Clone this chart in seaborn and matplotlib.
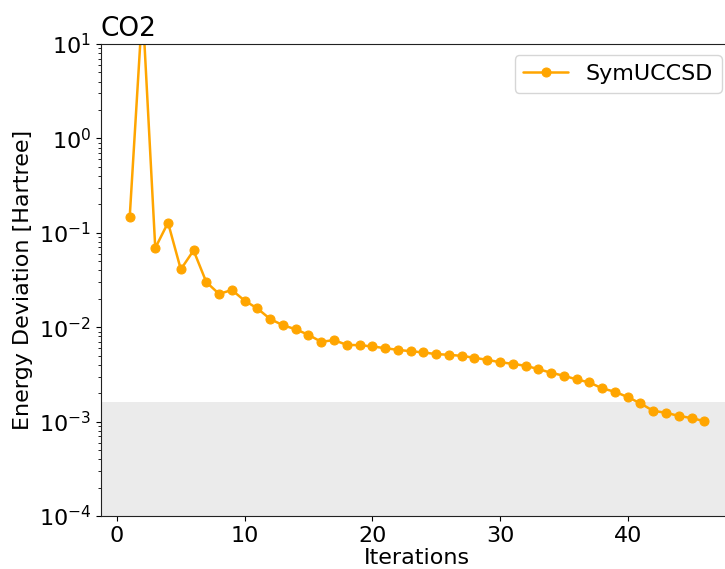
import numpy as np
import pandas as pd
import seaborn as sns
import matplotlib
matplotlib.use("Agg")
from matplotlib import pyplot as plt

sns.set_style("ticks", {"text.color": "black", "axes.labelcolor": "black",
                        "xtick.color": "black", "ytick.color": "black",
                        "axes.edgecolor": "#222222"})
plt.rcParams['font.family'] = ['DejaVu Sans']

# data ~~~~~~~~~~~~~~~~~~~~~~~~~~~~~~~~~~~~~~~~~~~~~~~~~~~~~~~~~~~~~~~~~~~~~
iterations = list(range(1, 47))
energy_dev = [0.148, 25.0, 0.069, 0.128, 0.041, 0.065, 0.030, 0.0225, 0.0248, 0.0191,
              0.0158, 0.0122, 0.0105, 0.0095, 0.0083, 0.0070, 0.0073, 0.0065, 0.00645, 0.00625,
              0.0060, 0.00575, 0.00557, 0.0054, 0.00519, 0.0051, 0.00497, 0.00474, 0.00451, 0.00426,
              0.00409, 0.0039, 0.0036, 0.00329, 0.00306, 0.0028, 0.0026, 0.00225, 0.00207, 0.00182,
              0.00156, 0.0013, 0.00124, 0.00115, 0.00109, 0.00101]
chem_acc = 1.6e-3
label = "SymUCCSD"
title = "CO2"

df = pd.DataFrame({"Iterations": iterations, "dev": energy_dev})

fig = plt.figure(figsize=(7.25, 5.69), dpi=100)
ax = fig.add_axes([101 / 725, 53 / 569, 632 / 725, 472 / 569])

# chemical accuracy band
ax.axhspan(1e-5, chem_acc, color="#ebebeb", lw=0, zorder=0)
sns.lineplot(data=df, x="Iterations", y="dev", ax=ax, color="orange", marker="o",
             markersize=6.5, markeredgecolor="orange", linewidth=1.8, label=label)

ax.set_yscale("log")
ax.set_ylim(1e-4, 10)
ax.set_xlim(-1.25, 48.25)
ax.set_xlabel("Iterations", fontsize=16, labelpad=2)
ax.set_ylabel("Energy Deviation [Hartree]", fontsize=16)
ax.set_title(title, loc="left", fontsize=19, pad=6)
ax.tick_params(labelsize=16)
ax.legend(loc="upper right", fontsize=16)

plt.savefig("out.png", dpi=100)
